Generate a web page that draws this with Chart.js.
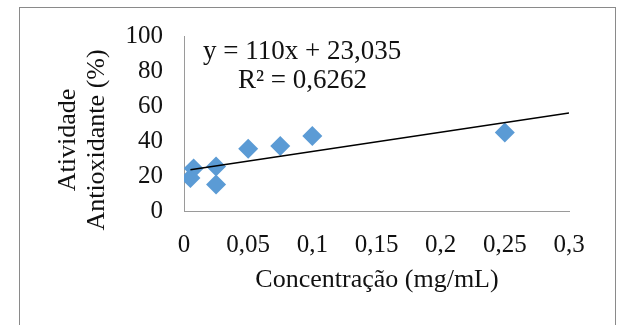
<!DOCTYPE html>
<html>
<head>
<meta charset="utf-8">
<script src="https://cdn.jsdelivr.net/npm/chart.js@4/dist/chart.umd.min.js"></script>
<style>
  html, body { margin: 0; padding: 0; background: #fff; }
  #wrap { width: 625px; height: 325px; position: relative; }
</style>
</head>
<body>
<div id="wrap"><canvas id="chart" width="625" height="325"></canvas></div>
<script>
// Concentração (mg/mL) e atividade antioxidante (%)
const concentracao = [0.005, 0.0075, 0.025, 0.025, 0.05, 0.075, 0.1, 0.25];
const atividade = [18.8, 24.3, 25.5, 15.2, 35.6, 37.1, 42.8, 44.8];

// Linha de tendência linear: y = 110x + 23,035 (R² = 0,6262)
const inclinacao = 110;
const intercepto = 23.035;
const r2Texto = '0,6262';

const xTicks = [0, 0.05, 0.1, 0.15, 0.2, 0.25, 0.3];
const yTicks = [0, 20, 40, 60, 80, 100];

const serif = "'Liberation Serif', 'Times New Roman', serif";
const textColor = '#111';

const pontos = concentracao.map((x, i) => ({ x, y: atividade[i] }));
const xIni = Math.min(...concentracao);
const xFim = xTicks[xTicks.length - 1];
const tendencia = [xIni, xFim].map(x => ({ x, y: inclinacao * x + intercepto }));

const fmt = v => String(Math.round(v * 100) / 100).replace('.', ',');

// Moldura, títulos dos eixos e equação da reta
const extras = {
  id: 'extras',
  beforeDraw(chart) {
    const ctx = chart.ctx;
    ctx.save();
    ctx.fillStyle = '#fff';
    ctx.fillRect(0, 0, chart.width, chart.height);
    ctx.strokeStyle = '#8a8a8a';
    ctx.lineWidth = 1;
    ctx.strokeRect(19.5, 7.5, 596, 320);
    ctx.restore();
  },
  afterDraw(chart) {
    const ctx = chart.ctx;
    ctx.save();
    ctx.fillStyle = textColor;
    ctx.textBaseline = 'middle';
    // título do eixo y, em duas linhas
    ctx.font = '26px ' + serif;
    ctx.textAlign = 'center';
    ctx.save();
    ctx.translate(68, 140);
    ctx.rotate(-Math.PI / 2);
    ctx.fillText('Atividade', 0, 0);
    ctx.fillText('Antioxidante (%)', 0, 29);
    ctx.restore();
    // título do eixo x
    ctx.font = '26px ' + serif;
    ctx.fillText('Concentração (mg/mL)', 377, 280);
    // equação e R²
    ctx.textAlign = 'left';
    ctx.font = '27px ' + serif;
    ctx.fillText('y = ' + inclinacao + 'x + ' + String(intercepto).replace('.', ','), 203, 52);
    ctx.fillText('R² = ' + r2Texto, 238, 81);
    ctx.restore();
  }
};

new Chart(document.getElementById('chart'), {
  type: 'scatter',
  data: {
    datasets: [
      {
        label: 'Atividade antioxidante',
        data: pontos,
        pointStyle: 'rectRot',
        pointRadius: 10,
        pointHoverRadius: 10,
        backgroundColor: '#5B9BD5',
        borderColor: '#5B9BD5',
        borderWidth: 0,
        order: 2
      },
      {
        type: 'line',
        label: 'Linear',
        data: tendencia,
        borderColor: '#000',
        borderWidth: 1.5,
        pointRadius: 0,
        fill: false,
        order: 1
      }
    ]
  },
  plugins: [extras],
  options: {
    responsive: false,
    animation: false,
    layout: { padding: { left: 0, top: 35, right: 56, bottom: 0 } },
    plugins: { legend: { display: false }, tooltip: { enabled: false } },
    scales: {
      x: {
        type: 'linear',
        min: 0,
        max: 0.3,
        afterBuildTicks(scale) { scale.ticks = xTicks.map(v => ({ value: v })); },
        afterFit(scale) { scale.height = 114; },
        grid: { display: false, drawTicks: false },
        border: { display: true, color: '#9a9a9a', width: 1 },
        ticks: {
          padding: 19,
          color: textColor,
          font: { family: serif, size: 25 },
          maxRotation: 0,
          callback: v => fmt(v)
        }
      },
      y: {
        min: 0,
        max: 100,
        afterBuildTicks(scale) { scale.ticks = yTicks.map(v => ({ value: v })); },
        afterFit(scale) { scale.width = 184; },
        grid: { display: false, drawTicks: false },
        border: { display: true, color: '#9a9a9a', width: 1 },
        ticks: {
          padding: 21,
          color: textColor,
          font: { family: serif, size: 25 },
          callback: v => String(v)
        }
      }
    }
  }
});
</script>
</body>
</html>
